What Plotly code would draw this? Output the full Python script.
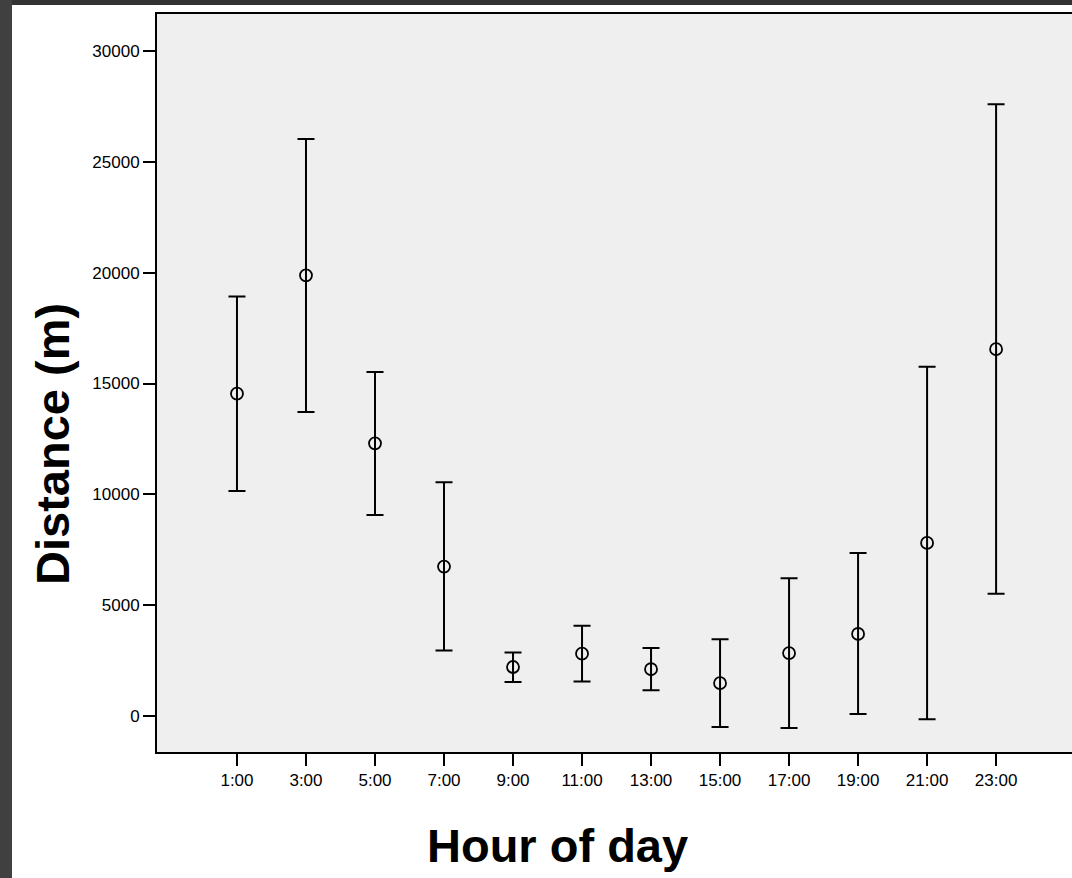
import plotly.graph_objects as go

hours = ["1:00", "3:00", "5:00", "7:00", "9:00", "11:00", "13:00", "15:00", "17:00", "19:00", "21:00", "23:00"]
mean_dist = [14540, 19880, 12300, 6740, 2210, 2810, 2110, 1480, 2840, 3700, 7810, 16550]
upper_ci = [18930, 26030, 15520, 10540, 2870, 4070, 3070, 3460, 6210, 7350, 15750, 27600]
lower_ci = [10150, 13710, 9070, 2950, 1530, 1560, 1160, -500, -540, 90, -150, 5510]
y_ticks = [0, 5000, 10000, 15000, 20000, 25000, 30000]

err_plus = [u - m for u, m in zip(upper_ci, mean_dist)]
err_minus = [m - l for m, l in zip(mean_dist, lower_ci)]

FONT = "Liberation Sans, Arial, Helvetica, sans-serif"

fig = go.Figure()
fig.add_trace(go.Scatter(
    x=hours, y=mean_dist, mode="markers",
    marker=dict(symbol="circle-open", size=12, color="black", line=dict(width=1.8, color="black")),
    error_y=dict(type="data", symmetric=False, array=err_plus, arrayminus=err_minus,
                 color="black", thickness=2, width=8.5),
    showlegend=False, hoverinfo="skip",
))

fig.update_layout(
    width=1072, height=878, autosize=False,
    margin=dict(l=157, r=0, t=14, b=126, pad=0),
    paper_bgcolor="white", plot_bgcolor="#efefef",
    font=dict(family=FONT, color="black", size=17),
    xaxis=dict(type="category", categoryorder="array", categoryarray=hours,
               range=[-1.159, 12.1], showgrid=False, zeroline=False,
               showline=True, linecolor="black", linewidth=2, mirror=True,
               ticks="outside", ticklen=12, tickwidth=2, tickcolor="black",
               tickfont=dict(size=17, family=FONT, color="black")),
    yaxis=dict(range=[-1624, 31669], tickvals=y_ticks, ticktext=[str(v) for v in y_ticks],
               showgrid=False, zeroline=False,
               showline=True, linecolor="black", linewidth=2, mirror=False,
               ticks="outside", ticklen=12, tickwidth=2, tickcolor="black",
               tickfont=dict(size=17, family=FONT, color="black")),
    shapes=[
        dict(type="rect", xref="paper", yref="paper", layer="above",
             x0=-157/915, x1=1.01, y0=1 + 9/738, y1=1 + 20/738,
             fillcolor="#333333", line=dict(width=0)),
        dict(type="rect", xref="paper", yref="paper", layer="above",
             x0=-157/915 - 0.01, x1=-145/915, y0=-130/738, y1=1 + 20/738,
             fillcolor="#404040", line=dict(width=0)),
    ],
    annotations=[
        dict(text="<b>Hour of day</b>", xref="paper", yref="paper",
             x=(557 - 157) / 915, y=(752 - 845) / 738, xanchor="center", yanchor="middle",
             showarrow=False, font=dict(size=47, family=FONT, color="black")),
        dict(text="<b>Distance (m)</b>", xref="paper", yref="paper", textangle=-90,
             x=(53 - 157) / 915, y=(752 - 444) / 738, xanchor="center", yanchor="middle",
             showarrow=False, font=dict(size=47, family=FONT, color="black")),
    ],
)

fig.write_html("out.html", config={"displayModeBar": False},
               post_script="document.body.style.margin='0';document.body.style.overflow='hidden';")
